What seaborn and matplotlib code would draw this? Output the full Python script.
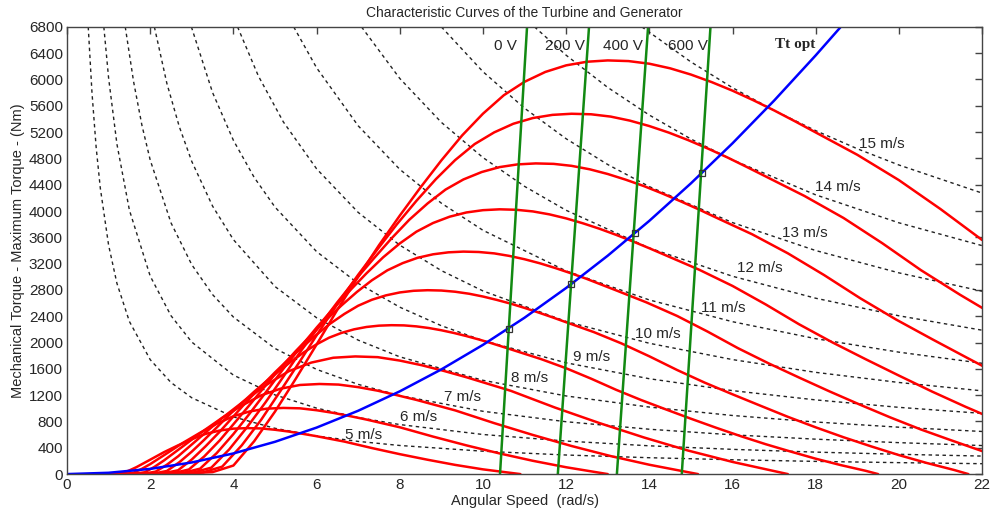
import pandas as pd
import matplotlib.pyplot as plt
import seaborn as sns

# red curves: mechanical torque for each wind speed
X_5 = [0.83, 1.17, 1.33, 1.5, 1.67, 2.0, 2.33, 2.67, 3.0, 3.33, 3.67, 4.0, 4.33, 4.67, 5.0, 5.33, 5.67, 6.0, 6.67, 7.33, 8.0, 8.67, 9.33, 10.0, 10.9]
T_5 = [0, 3, 14, 56, 106, 219, 333, 437, 531, 611, 662, 691, 699, 694, 674, 647, 612, 576, 494, 396, 303, 218, 140, 72, 0]
X_6 = [1.0, 1.4, 1.6, 1.8, 2.0, 2.4, 2.8, 3.2, 3.6, 4.0, 4.4, 4.8, 5.2, 5.6, 6.0, 6.4, 6.8, 7.2, 8.0, 8.8, 9.6, 10.4, 11.2, 12.0, 13.0]
T_6 = [0, 5, 21, 80, 152, 315, 480, 629, 765, 880, 954, 995, 1006, 1000, 971, 931, 882, 829, 712, 570, 437, 314, 202, 104, 0]
X_7 = [1.17, 1.63, 1.87, 2.1, 2.33, 2.8, 3.27, 3.73, 4.2, 4.67, 5.13, 5.6, 6.07, 6.53, 7.0, 7.47, 7.93, 8.4, 9.33, 10.27, 11.2, 12.13, 13.07, 14.0, 15.17]
T_7 = [0, 7, 28, 109, 207, 429, 653, 856, 1041, 1198, 1298, 1355, 1370, 1361, 1322, 1268, 1200, 1128, 969, 775, 595, 427, 274, 142, 0]
X_8 = [1.33, 1.87, 2.13, 2.4, 2.67, 3.2, 3.73, 4.27, 4.8, 5.33, 5.87, 6.4, 6.93, 7.47, 8.0, 8.53, 9.07, 9.6, 10.67, 11.73, 12.8, 13.87, 14.93, 16.0, 17.33]
T_8 = [0, 9, 37, 142, 270, 560, 853, 1118, 1359, 1564, 1695, 1769, 1789, 1778, 1726, 1655, 1567, 1473, 1266, 1012, 776, 557, 358, 185, 0]
X_9 = [1.5, 2.1, 2.4, 2.7, 3.0, 3.3, 3.6, 3.9, 4.2, 4.5, 4.8, 5.1, 5.4, 5.7, 6.0, 6.3, 6.6, 6.9, 7.2, 7.5, 7.8, 8.1, 8.4, 8.7,
       9.0, 9.3, 9.6, 9.9, 10.2, 10.5, 10.8, 11.4, 12.0, 12.6, 13.2, 13.8, 14.4, 15.0, 15.6, 16.2, 16.8, 17.4, 18.0, 18.6, 19.2, 19.5]
T_9 = [0, 11, 47, 180, 342, 522, 709, 900, 1080, 1253, 1415, 1570, 1717, 1854, 1973, 2074, 2147, 2201, 2237, 2257, 2264, 2261, 2246, 2221,
       2187, 2146, 2099, 2047, 1991, 1931, 1870, 1748, 1609, 1451, 1282, 1127, 983, 842, 706, 576, 454, 342, 234, 137, 50, 0]
X_10 = [1.67, 2.33, 2.67, 3.0, 3.33, 3.67, 4.0, 4.33, 4.67, 5.0, 5.33, 5.67, 6.0, 6.33, 6.67, 7.0, 7.33, 7.67, 8.0, 8.33, 8.67, 9.0, 9.33,
        9.67, 10.0, 10.33, 10.67, 11.0, 11.33, 11.67, 12.0, 12.67, 13.33, 14.0, 14.67, 15.33, 16.0, 16.67, 17.33, 18.0, 18.67, 19.33, 20.0,
        20.67, 21.33, 21.67]
T_10 = [0, 13, 58, 222, 422, 644, 876, 1111, 1333, 1547, 1747, 1938, 2120, 2289, 2436, 2560, 2651, 2718, 2762, 2787, 2796, 2791, 2773,
        2742, 2700, 2649, 2591, 2527, 2458, 2384, 2309, 2158, 1987, 1791, 1582, 1391, 1213, 1040, 871, 711, 560, 422, 289,
        169, 62, 0]
X_11 = [1.83, 2.57, 2.93, 3.3, 3.67, 4.03, 4.4, 4.77, 5.13, 5.5, 5.87, 6.23, 6.6, 6.97, 7.33, 7.7, 8.07, 8.43, 8.8, 9.17, 9.53, 9.9,
        10.27, 10.63, 11.0, 11.37, 11.73, 12.1, 12.47, 12.83, 13.2, 13.93, 14.67, 15.4, 16.13, 16.87, 17.6, 18.33, 19.07, 19.8, 20.53,
        21.27, 22.0]
T_11 = [0, 16, 70, 269, 511, 780, 1059, 1344, 1613, 1871, 2114, 2345, 2565, 2770, 2947, 3098, 3208, 3289, 3342, 3372, 3383, 3377,
        3356, 3318, 3267, 3205, 3135, 3057, 2974, 2885, 2794, 2611, 2404, 2167, 1915, 1683, 1468, 1258, 1054, 860, 678,
        511, 350]
X_12 = [2.0, 2.8, 3.2, 3.6, 4.0, 4.4, 4.8, 5.2, 5.6, 6.0, 6.4, 6.8, 7.2, 7.6, 8.0, 8.4, 8.8, 9.2, 9.6, 10.0, 10.4, 10.8, 11.2, 11.6,
        12.0, 12.4, 12.8, 13.2, 13.6, 14.0, 14.4, 15.2, 16.0, 16.8, 17.6, 18.4, 19.2, 20.0, 20.8, 21.6, 22.4]
T_12 = [0, 19, 83, 320, 608, 928, 1261, 1600, 1920, 2227, 2515, 2790, 3053, 3296, 3507, 3686, 3818, 3914, 3978, 4013, 4026, 4019,
        3994, 3949, 3888, 3814, 3731, 3638, 3539, 3434, 3325, 3107, 2861, 2579, 2278, 2003, 1747, 1498, 1254, 1024, 806]
X_13 = [2.17, 3.03, 3.47, 3.9, 4.33, 4.77, 5.2, 5.63, 6.07, 6.5, 6.93, 7.37, 7.8, 8.23, 8.67, 9.1, 9.53, 9.97, 10.4, 10.83, 11.27,
        11.7, 12.13, 12.57, 13.0, 13.43, 13.87, 14.3, 14.73, 15.17, 15.6, 16.47, 17.33, 18.2, 19.07, 19.93, 20.8, 21.67, 22.53]
T_13 = [0, 23, 98, 376, 714, 1089, 1480, 1878, 2253, 2614, 2952, 3275, 3583, 3868, 4116, 4326, 4480, 4593, 4668, 4709, 4724,
        4717, 4687, 4634, 4563, 4477, 4379, 4270, 4154, 4030, 3902, 3647, 3357, 3027, 2674, 2351, 2051, 1758, 1472]
X_14 = [2.33, 3.27, 3.73, 4.2, 4.67, 5.13, 5.6, 6.07, 6.53, 7.0, 7.47, 7.93, 8.4, 8.87, 9.33, 9.8, 10.27, 10.73, 11.2, 11.67, 12.13,
        12.6, 13.07, 13.53, 14.0, 14.47, 14.93, 15.4, 15.87, 16.33, 16.8, 17.73, 18.67, 19.6, 20.53, 21.47, 22.4]
T_14 = [0, 26, 113, 436, 828, 1263, 1716, 2178, 2613, 3031, 3423, 3798, 4155, 4486, 4774, 5018, 5196, 5327, 5414, 5462, 5479,
        5471, 5436, 5375, 5292, 5192, 5079, 4952, 4817, 4674, 4525, 4229, 3894, 3511, 3101, 2727, 2378]
X_15 = [2.5, 3.5, 4, 4.5, 5, 5.5, 6, 6.5, 7, 7.5, 8, 8.5, 9, 9.5, 10, 10.5, 11, 11.5, 12, 12.5, 13, 13.5, 14, 14.5, 15, 15.5, 16,
        16.5, 17, 17.5, 18, 19, 20, 21, 22]
T_15 = [0, 30, 130, 500, 950, 1450, 1970, 2500, 3000, 3480, 3930, 4360, 4770, 5150, 5480, 5760, 5965, 6115, 6215, 6270, 6290, 6280,
        6240, 6170, 6075, 5960, 5830, 5685, 5530, 5365, 5195, 4855, 4470, 4030, 3560]

# dashed curves: constant power through each wind speed's maximum
PX_5 = [0.51, 0.6, 0.7, 0.8, 1.0, 1.2, 1.5, 2, 2.5, 3, 4, 5, 6, 7, 8, 10, 12, 14, 16, 18, 20, 22]
PT_5 = [6800, 5800, 4971, 4350, 3480, 2900, 2320, 1740, 1392, 1160, 870, 696, 580, 497, 435, 348, 290, 249, 218, 193, 174, 158]
PX_6 = [0.885, 1.0, 1.2, 1.5, 2, 2.5, 3, 4, 5, 6, 7, 8, 10, 12, 14, 16, 18, 20, 22]
PT_6 = [6800, 6020, 5017, 4013, 3010, 2408, 2007, 1505, 1204, 1003, 860, 753, 602, 502, 430, 376, 334, 301, 274]
PX_7 = [1.40, 1.6, 1.8, 2, 2.5, 3, 3.5, 4, 5, 6, 7, 8, 10, 12, 14, 16, 18, 20, 22]
PT_7 = [6800, 5969, 5306, 4775, 3820, 3183, 2729, 2388, 1910, 1592, 1364, 1194, 955, 796, 682, 597, 531, 478, 434]
PX_8 = [2.1, 2.4, 2.7, 3, 3.5, 4, 5, 6, 7, 8, 10, 12, 14, 16, 18, 20, 22]
PT_8 = [6800, 5942, 5281, 4753, 4074, 3565, 2852, 2377, 2037, 1783, 1426, 1188, 1019, 891, 792, 713, 648]
PX_9 = [2.99, 3.5, 4, 4.5, 5, 6, 7, 8, 9, 10, 12, 14, 16, 18, 20, 22]
PT_9 = [6800, 5800, 5075, 4511, 4060, 3383, 2900, 2538, 2256, 2030, 1692, 1450, 1269, 1128, 1015, 923]
PX_10 = [4.1, 4.6, 5.2, 6, 7, 8, 9, 10, 12, 14, 16, 18, 20, 22]
PT_10 = [6800, 6054, 5356, 4642, 3979, 3481, 3094, 2785, 2321, 1989, 1741, 1547, 1393, 1266]
PX_11 = [5.45, 6, 7, 8, 9, 10, 12, 14, 16, 18, 20, 22]
PT_11 = [6800, 6178, 5296, 4634, 4119, 3707, 3089, 2648, 2317, 2059, 1854, 1685]
PX_12 = [7.08, 8, 9, 10, 11, 12, 14, 16, 18, 20, 22]
PT_12 = [6800, 6016, 5348, 4813, 4375, 4011, 3438, 3008, 2674, 2407, 2188]
PX_13 = [9.0, 10, 11, 12, 13, 14, 16, 18, 20, 22]
PT_13 = [6800, 6119, 5563, 5099, 4707, 4371, 3824, 3399, 3060, 2781]
PX_14 = [11.24, 12, 13, 14, 15, 16, 18, 20, 22]
PT_14 = [6800, 6369, 5879, 5459, 5095, 4777, 4246, 3821, 3474]
PX_15 = [13.82, 15, 16, 17, 18, 19, 20, 22]
PT_15 = [6800, 6267, 5875, 5529, 5222, 4947, 4700, 4273]

# optimal torque curve
OPT_X = [0, 1, 2, 3, 4, 5, 6, 7, 8, 9, 10, 11, 12, 13, 14, 15, 16, 17, 18, 18.6]
OPT_T = [0, 20, 79, 177, 314, 491, 707, 963, 1258, 1592, 1965, 2378, 2830, 3321, 3851, 4421, 5030, 5679, 6367, 6798]

# generator lines (bottom x, top x)
GEN_NAMES = ['0 V', '200 V', '400 V', '600 V']
GEN_X0 = [10.41, 11.8, 13.22, 14.78]
GEN_X1 = [11.06, 12.55, 13.97, 15.47]
GEN_LABEL_X = [10.55, 11.97, 13.37, 14.93]
CROSS_X = [10.63, 12.12, 13.65, 15.26]
CROSS_T = [2205, 2890, 3665, 4580]

SPEEDS = [5, 6, 7, 8, 9, 10, 11, 12, 13, 14, 15]
LABEL_X = [7.12, 8.44, 9.52, 11.13, 12.62, 14.21, 15.77, 16.66, 17.74, 18.54, 19.6]
LABEL_T = [593, 867, 1171, 1460, 1780, 2130, 2525, 3134, 3666, 4366, 5020]

red_x = [X_5, X_6, X_7, X_8, X_9, X_10, X_11, X_12, X_13, X_14, X_15]
red_t = [T_5, T_6, T_7, T_8, T_9, T_10, T_11, T_12, T_13, T_14, T_15]
pw_x = [PX_5, PX_6, PX_7, PX_8, PX_9, PX_10, PX_11, PX_12, PX_13, PX_14, PX_15]
pw_t = [PT_5, PT_6, PT_7, PT_8, PT_9, PT_10, PT_11, PT_12, PT_13, PT_14, PT_15]

red_df = pd.concat([pd.DataFrame({'w': xs, 'T': ts, 'v': v}) for v, xs, ts in zip(SPEEDS, red_x, red_t)])
pw_df = pd.concat([pd.DataFrame({'w': xs, 'T': ts, 'v': v}) for v, xs, ts in zip(SPEEDS, pw_x, pw_t)])
gen_df = pd.concat([pd.DataFrame({'w': [a, b], 'T': [0, 6800], 'g': n})
                    for n, a, b in zip(GEN_NAMES, GEN_X0, GEN_X1)])

sns.set_style('white')
plt.rcParams['font.family'] = ['Liberation Sans', 'DejaVu Sans']

fig, ax = plt.subplots(figsize=(9.9, 5.17), dpi=100)
fig.subplots_adjust(left=0.0677, right=0.992, top=0.948, bottom=0.083)

sns.lineplot(data=pw_df, x='w', y='T', units='v', estimator=None, sort=False,
             color='#222222', linewidth=1.0, linestyle=(0, (2.5, 2.5)), ax=ax)
sns.lineplot(data=red_df, x='w', y='T', units='v', estimator=None, sort=False,
             color='#ff0000', linewidth=1.8, ax=ax)
sns.lineplot(x=OPT_X, y=OPT_T, color='#0000ff', linewidth=1.8, sort=False, ax=ax)
sns.lineplot(data=gen_df, x='w', y='T', units='g', estimator=None, sort=False,
             color='#128a12', linewidth=1.8, ax=ax)
ax.plot(CROSS_X, CROSS_T, 's', markersize=5, markerfacecolor='none',
        markeredgecolor='#333333', markeredgewidth=0.9)

for n, x in zip(GEN_NAMES, GEN_LABEL_X):
    ax.text(x, 6510, n, ha='center', va='center', fontsize=11)
ax.text(17.5, 6530, 'Tt opt', ha='center', va='center', fontsize=11,
        fontweight='bold', family=['Liberation Serif', 'DejaVu Serif'])
for v, x, t in zip(SPEEDS, LABEL_X, LABEL_T):
    ax.text(x, t, f'{v} m/s', ha='center', va='center', fontsize=11)

ax.set_xlim(0, 22)
ax.set_ylim(0, 6800)
ax.set_xticks(range(0, 23, 2))
ax.set_yticks(range(0, 6801, 400))
ax.tick_params(direction='in', top=True, right=True, length=5, width=1,
               color='#444444', labelsize=11, pad=3)
for s in ax.spines.values():
    s.set_color('#444444')
    s.set_linewidth(1)

ax.set_title('Characteristic Curves of the Turbine and Generator', fontsize=10, pad=7)
ax.set_xlabel('Angular Speed  (rad/s)', fontsize=10.5, labelpad=1)
ax.set_ylabel('Mechanical Torque - Maximum Torque - (Nm)', fontsize=10.5, labelpad=3)

plt.savefig('out.png', dpi=100)
plt.close()
